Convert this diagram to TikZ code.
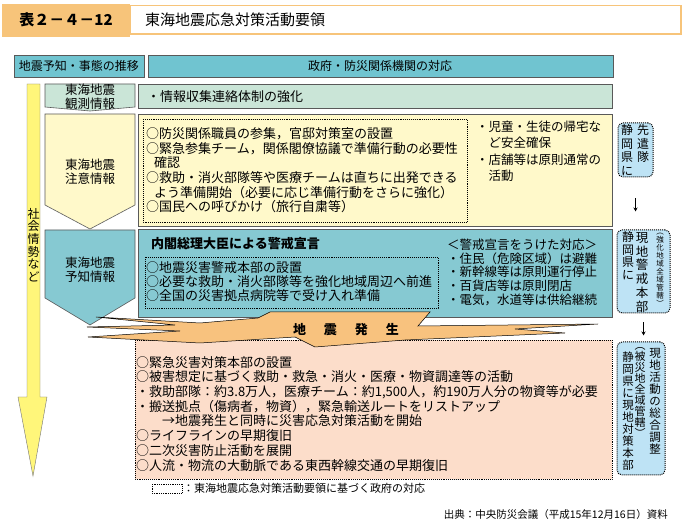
\documentclass[tikz,border=0pt]{standalone}
\usepackage{fontspec}
\setmainfont{Noto Sans CJK JP}
\usetikzlibrary{arrows.meta}
\definecolor{titleorange}{RGB}{247,196,122}
\definecolor{headteal}{RGB}{112,196,208}
\definecolor{mint}{RGB}{202,229,215}
\definecolor{cream}{RGB}{255,249,202}
\definecolor{tealbox}{RGB}{134,201,210}
\definecolor{skyblue}{RGB}{190,227,245}
\definecolor{peach}{RGB}{252,221,202}
\definecolor{boom}{RGB}{248,194,126}
\definecolor{lemon}{RGB}{255,246,122}
\newcommand{\fsz}[2]{\fontsize{#1}{#2}\selectfont}

\begin{document}
\begin{tikzpicture}[x=1pt, y=-1pt,
    frame/.style={draw=black!65, line width=0.6pt},
    dotbox/.style={draw, densely dotted, line width=0.9pt},
    bluebox/.style={draw, densely dotted, line width=1pt, fill=skyblue, rounded corners=5pt, inner sep=0pt},
    body/.style={anchor=north west, inner sep=0pt, align=left, font=\fsz{13}{14.7}},
    side/.style={anchor=north west, inner sep=0pt, align=left, font=\fsz{12.5}{13.6}},
    stage/.style={inner sep=0pt, align=center, font=\fsz{12.5}{14}},
    vcol/.style={anchor=north, inner sep=0pt, align=center},
    arr/.style={-{Stealth[length=4pt,width=4pt]}, line width=0.6pt}]
    \useasboundingbox (0,0) rectangle (683,526);
    \fill[white] (0,0) rectangle (683,526);

    \fill[titleorange] (2,4) rectangle (130,37);
    \draw[titleorange, line width=1.5pt, fill=white] (130,5.5) rectangle (681,34);
    \node[font=\fsz{15}{15}\bfseries] (tabno) at (66,20) {表２－４－12};
    \node[anchor=west, inner sep=0pt, font=\fsz{15}{15}] (title) at (145,20) {東海地震応急対策活動要領};

    \draw[frame, fill=headteal] (14,55) rectangle (144,77);
    \draw[frame, fill=headteal] (148,55) rectangle (613,77);
    \node[font=\fsz{12}{12}] (headL) at (79,66) {地震予知・事態の推移};
    \node[font=\fsz{12}{12}] (headR) at (380,66) {政府・防災関係機関の対応};

    \draw[draw=black!55, fill=lemon] (27,84) -- (40,84) -- (40,397) -- (47,397) -- (33,476) -- (18,397) -- (27,397) -- cycle;
    \node[vcol, font=\fsz{12}{12.6}] (society) at (33.5,208) {社\\会\\情\\勢\\な\\ど};

    \draw[frame, fill=mint] (45,84) -- (135,84) -- (135,107) -- (90,111) -- (45,107) -- cycle;
    \draw[frame, fill=cream] (45,114) -- (135,114) -- (135,205) -- (90,229) -- (45,205) -- cycle;
    \draw[frame, fill=tealbox] (45,230) -- (135,230) -- (135,298) -- (90,325) -- (45,298) -- cycle;
    \node[stage] (obs) at (90,97) {東海地震\\観測情報};
    \node[stage] (caution) at (90,172) {東海地震\\注意情報};
    \node[stage] (predict) at (90,270) {東海地震\\予知情報};

    \draw[frame, fill=mint] (138,84) rectangle (612,108);
    \node[anchor=west, inner sep=0pt, font=\fsz{13}{13}] (gather) at (147,97) {・情報収集連絡体制の強化};

    \draw[frame, fill=cream] (138,114) rectangle (612,226);
    \draw[dotbox] (143,119) rectangle (467,222);
    \node[body] (cautionGov) at (146,127.3) {○防災関係職員の参集，官邸対策室の設置\\
        ○緊急参集チーム，関係閣僚協議で準備行動の必要性\\
        \hspace{0.6em}確認\\
        ○救助・消火部隊等や医療チームは直ちに出発できる\\
        \hspace{0.6em}よう準備開始（必要に応じ準備行動をさらに強化）\\
        ○国民への呼びかけ（旅行自粛等）};
    \node[side, font=\fsz{12.5}{16.3}] (cautionSoc) at (476,120.7) {・児童・生徒の帰宅な\\
        \hspace{1em}ど安全確保\\
        ・店舗等は原則通常の\\
        \hspace{1em}活動};

    \draw[frame, fill=tealbox] (138,229) rectangle (612,317);
    \node[body, font=\fsz{13}{13}\bfseries] (decl) at (151,237) {内閣総理大臣による警戒宣言};
    \draw[dotbox] (145,257) rectangle (438,308);
    \node[body, font=\fsz{13}{14}] (declGov) at (146,261) {○地震災害警戒本部の設置\\
        ○必要な救助・消火部隊等を強化地域周辺へ前進\\
        ○全国の災害拠点病院等で受け入れ準備};
    \node[side] (declSoc) at (447,239) {＜警戒宣言をうけた対応＞\\
        ・住民（危険区域）は避難\\
        ・新幹線等は原則運行停止\\
        ・百貨店等は原則閉店\\
        ・電気，水道等は供給継続};

    \draw[dotbox, fill=peach] (135,340) rectangle (612,479);
    \filldraw[fill=boom, draw=black, line width=0.5pt] (96,317) -- (200,323) -- (258,318) -- (270,312)
        -- (430,312) -- (418,326) -- (598,324) -- (515,329) -- (565,333) -- (405,340) -- (315,347)
        -- (295,337) -- (200,343) -- (88,337) -- (180,331) -- (87,327) -- (175,325) -- cycle;
    \node[font=\fsz{13}{13}\bfseries] (quake) at (346,330) {地\hspace{18pt}震\hspace{18pt}発\hspace{18pt}生};
    \node[body] (quakeGov) at (136,356) {○緊急災害対策本部の設置\\
        ○被害想定に基づく救助・救急・消火・医療・物資調達等の活動\\
        ・救助部隊：約3.8万人，医療チーム：約1,500人，約190万人分の物資等が必要\\
        ・搬送拠点（傷病者，物資），緊急輸送ルートをリストアップ\\
        \hspace{2em}→地震発生と同時に災害応急対策活動を開始\\
        ○ライフラインの早期復旧\\
        ○二次災害防止活動を展開\\
        ○人流・物流の大動脈である東西幹線交通の早期復旧};

    \node[bluebox, minimum width=35pt, minimum height=54pt] (pre) at (635.5,150) {};
    \node[vcol, font=\fsz{12}{13.5}] (preR) at (643,124.5) {先\\遣\\隊};
    \node[vcol, font=\fsz{12}{13.5}] (preL) at (627,124.5) {静\\岡\\県\\に};

    \node[bluebox, minimum width=53pt, minimum height=83pt] (hq) at (643.5,271.5) {};
    \node[vcol, font=\fsz{12}{12.5}] (hqL) at (628,231.5) {静\\岡\\県\\に};
    \node[vcol, font=\fsz{12.5}{13.8}] (hqM) at (642,232.2) {現\\地\\警\\戒\\本\\部};
    \node[vcol, font=\fsz{7.5}{8}] (hqR) at (660,233) {︵\\強\\化\\地\\域\\全\\域\\管\\轄\\︶};

    \node[bluebox, minimum width=48pt, minimum height=133pt] (site) at (641,408.5) {};
    \node[vcol, font=\fsz{11.5}{12.1}] (siteR) at (655,347.7) {現\\地\\活\\動\\の\\総\\合\\調\\整};
    \node[vcol, font=\fsz{11}{11}] (siteM) at (640,347) {︵\\被\\災\\地\\全\\域\\管\\轄\\︶};
    \node[vcol, font=\fsz{11.5}{12}] (siteL) at (628,351.7) {静\\岡\\県\\に\\現\\地\\対\\策\\本\\部};

    \draw[arr, shorten <=21pt, shorten >=18pt] (pre.south) -- (pre.south |- hq.north);
    \draw[arr, shorten <=9pt, shorten >=6pt] (hq.south) -- (hq.south |- site.north);

    \draw[dotbox, line width=0.8pt] (152,484) rectangle (182,493);
    \node[anchor=west, inner sep=0pt, font=\fsz{11}{11}] (legend) at (183,488.5) {：東海地震応急対策活動要領に基づく政府の対応};
    \node[anchor=east, inner sep=0pt, font=\fsz{10.5}{10.5}] (source) at (668,515) {出典：中央防災会議（平成15年12月16日）資料};
\end{tikzpicture}
\end{document}
